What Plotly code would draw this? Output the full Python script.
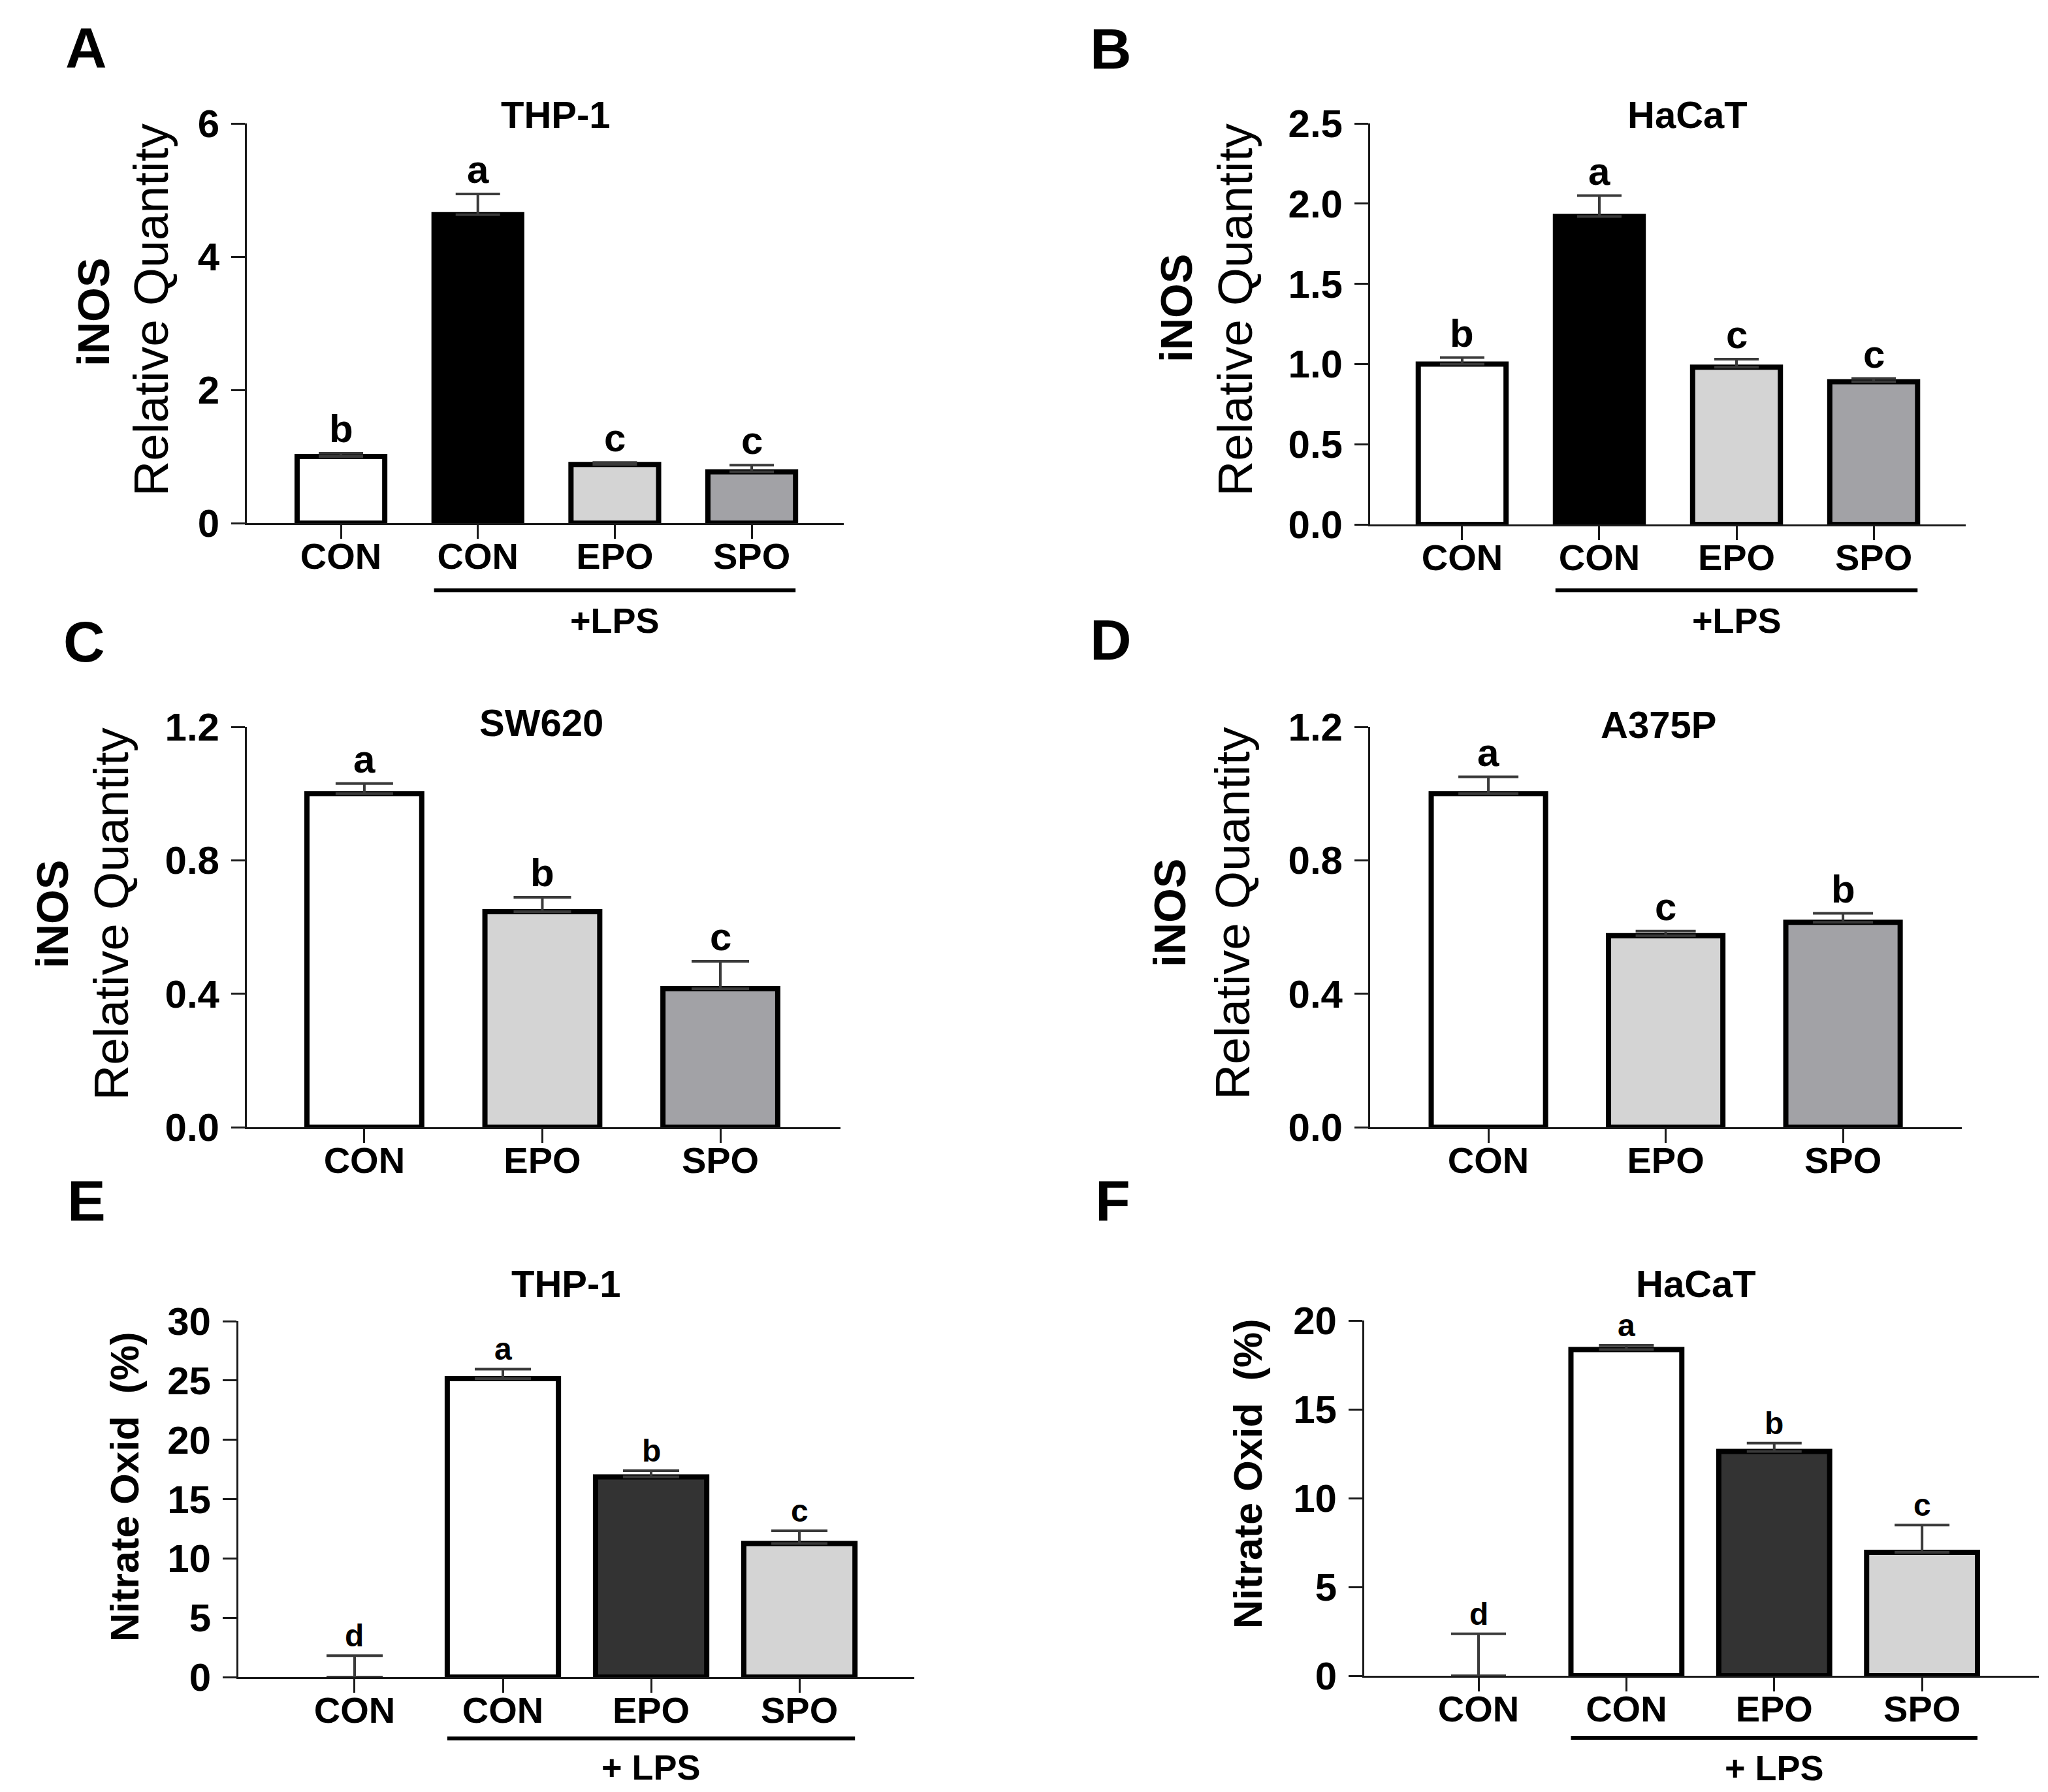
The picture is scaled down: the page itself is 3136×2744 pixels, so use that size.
import plotly.graph_objects as go

# ---- data ----
lps_groups = ["CON", "CON", "EPO", "SPO"]
cell_groups = ["CON", "EPO", "SPO"]

thp1_inos = [1.00, 4.63, 0.88, 0.77]
thp1_inos_err = [0.05, 0.31, 0.03, 0.10]
thp1_inos_sig = ["b", "a", "c", "c"]

hacat_inos = [1.00, 1.92, 0.98, 0.89]
hacat_inos_err = [0.04, 0.13, 0.05, 0.02]
hacat_inos_sig = ["b", "a", "c", "c"]

sw620_inos = [1.00, 0.646, 0.415]
sw620_inos_err = [0.03, 0.043, 0.082]
sw620_inos_sig = ["a", "b", "c"]

a375p_inos = [1.00, 0.574, 0.614]
a375p_inos_err = [0.05, 0.014, 0.027]
a375p_inos_sig = ["a", "c", "b"]

thp1_no = [0.0, 25.16, 16.87, 11.25]
thp1_no_err = [1.8, 0.80, 0.53, 1.08]
thp1_no_sig = ["d", "a", "b", "c"]

hacat_no = [0.0, 18.36, 12.63, 6.95]
hacat_no_err = [2.36, 0.24, 0.47, 1.53]
hacat_no_sig = ["d", "a", "b", "c"]

W, H = 3136, 2744
OFF_Y = 8  # page body margin shows up vertically
FONT = "Liberation Sans, Arial, sans-serif"
INK = "#1a1a1a"

WHITE, BLACK, LIGHT, MID, DARK = "#ffffff", "#000000", "#d4d4d4", "#a2a2a6", "#333333"


def px(x):
    return x / W


def py(y):
    return 1 - (y - OFF_Y) / H


panels = [
    dict(label="A", label_pos=(124, 72), title="THP-1", title_pos=(843, 176),
         vals=thp1_inos, errs=thp1_inos_err, sig=thp1_inos_sig, ticks=lps_groups,
         colors=[WHITE, BLACK, LIGHT, MID], box=(370, 1284, 189, 801),
         xr=[-0.687, 3.672], yr=[0, 6], dtick=2, fmt="d", bw=0.64, cap=34, lw=8,
         ytitle=[("iNOS", 135, 478), ("Relative Quantity", 223, 474)], sig_size=60,
         lps=(904, 950, "+LPS")),
    dict(label="B", label_pos=(1693, 74), title="HaCaT", title_pos=(2576, 176),
         vals=hacat_inos, errs=hacat_inos_err, sig=hacat_inos_sig, ticks=lps_groups,
         colors=[WHITE, BLACK, LIGHT, MID], box=(2090, 3002, 189, 803),
         xr=[-0.671, 3.671], yr=[0, 2.5], dtick=0.5, fmt=".1f", bw=0.64, cap=34, lw=8,
         ytitle=[("iNOS", 1793, 472), ("Relative Quantity", 1883, 474)], sig_size=60,
         lps=(904, 950, "+LPS")),
    dict(label="C", label_pos=(121, 982), title="SW620", title_pos=(821, 1106),
         vals=sw620_inos, errs=sw620_inos_err, sig=sw620_inos_sig, ticks=cell_groups,
         colors=[WHITE, LIGHT, MID], box=(370, 1279, 1113, 1726),
         xr=[-0.66, 2.675], yr=[0, 1.2], dtick=0.4, fmt=".1f", bw=0.645, cap=44, lw=8,
         ytitle=[("iNOS", 72, 1400), ("Relative Quantity", 162, 1399)], sig_size=60,
         lps=None),
    dict(label="D", label_pos=(1693, 980), title="A375P", title_pos=(2531, 1109),
         vals=a375p_inos, errs=a375p_inos_err, sig=a375p_inos_sig, ticks=cell_groups,
         colors=[WHITE, LIGHT, MID], box=(2090, 2996, 1113, 1726),
         xr=[-0.667, 2.67], yr=[0, 1.2], dtick=0.4, fmt=".1f", bw=0.645, cap=46, lw=8,
         ytitle=[("iNOS", 1783, 1398), ("Relative Quantity", 1879, 1398)], sig_size=60,
         lps=None),
    dict(label="E", label_pos=(124, 1838), title="THP-1", title_pos=(859, 1965),
         vals=thp1_no, errs=thp1_no_err, sig=thp1_no_sig, ticks=lps_groups,
         colors=[WHITE, WHITE, DARK, LIGHT], box=(357, 1392, 2023, 2568),
         xr=[-0.784, 3.775], yr=[0, 30], dtick=5, fmt="d", bw=0.75, cap=43, lw=8,
         ytitle=[("Nitrate Oxid\u00a0 (%)", 183, 2277)], sig_size=48,
         lps=(2662, 2706, "+ LPS")),
    dict(label="F", label_pos=(1696, 1838), title="HaCaT", title_pos=(2589, 1965),
         vals=hacat_no, errs=hacat_no_err, sig=hacat_no_sig, ticks=lps_groups,
         colors=[WHITE, WHITE, DARK, LIGHT], box=(2081, 3114, 2022, 2566),
         xr=[-0.773, 3.79], yr=[0, 20], dtick=5, fmt="d", bw=0.75, cap=42, lw=8,
         ytitle=[("Nitrate Oxid\u00a0 (%)", 1903, 2257)], sig_size=48,
         lps=(2661, 2707, "+ LPS")),
]

# y-title line styles: (bold, size)
ytitle_style = {"iNOS": (True, 68), "Relative Quantity": (False, 75)}

fig = go.Figure()
layout = {}
annotations = []
shapes = []

for i, p in enumerate(panels):
    n = i + 1
    sfx = "" if n == 1 else str(n)
    xa, ya = "x" + sfx, "y" + sfx
    x0, x1, ytop, ybot = p["box"]
    pos = list(range(len(p["vals"])))

    fig.add_trace(go.Bar(
        x=pos, y=p["vals"], width=p["bw"], xaxis=xa, yaxis=ya,
        marker=dict(color=p["colors"],
                    line=dict(color="black",
                              width=[0 if v == 0 else p["lw"] for v in p["vals"]])),
        error_y=dict(type="data", symmetric=False, array=p["errs"],
                     arrayminus=[0] * len(p["errs"]), color="#3a3a3a",
                     thickness=4, width=p["cap"]),
        showlegend=False, hoverinfo="skip",
    ))

    axis_common = dict(showline=True, linecolor=INK, linewidth=3, ticks="outside",
                       ticklen=21, tickwidth=3, tickcolor=INK, showgrid=False,
                       zeroline=False, automargin=False)
    layout["xaxis" + sfx] = dict(
        domain=[px(x0), px(x1)], range=p["xr"], anchor=ya,
        tickmode="array", tickvals=pos, ticktext=p["ticks"], ticklabelstandoff=-21,
        tickfont=dict(family=FONT, size=56, color="black", weight="bold"),
        **axis_common)
    layout["yaxis" + sfx] = dict(
        domain=[py(ybot), py(ytop)], range=p["yr"], anchor=xa,
        dtick=p["dtick"], tick0=0, tickformat=p["fmt"], ticklabelstandoff=6,
        tickfont=dict(family=FONT, size=60, color="black", weight="bold"),
        **axis_common)

    # significance letters above error bars
    for xi, v, e, s in zip(pos, p["vals"], p["errs"], p["sig"]):
        annotations.append(dict(
            x=xi, y=v + e, xref=xa, yref=ya, text="<b>%s</b>" % s, showarrow=False,
            yanchor="bottom", yshift=2,
            font=dict(family=FONT, size=p["sig_size"], color="black")))

    # panel letter and title
    annotations.append(dict(
        x=px(p["label_pos"][0]), y=py(p["label_pos"][1]), xref="paper", yref="paper",
        text="<b>%s</b>" % p["label"], showarrow=False, xanchor="center", yanchor="middle",
        font=dict(family=FONT, size=88, color="black")))
    annotations.append(dict(
        x=px(p["title_pos"][0]), y=py(p["title_pos"][1]), xref="paper", yref="paper",
        text="<b>%s</b>" % p["title"], showarrow=False, xanchor="center", yanchor="middle",
        font=dict(family=FONT, size=58, color="black")))

    # rotated y titles, one annotation per line
    for txt, tx, ty in p["ytitle"]:
        bold, size = ytitle_style.get(txt, (True, 61))
        annotations.append(dict(
            x=px(tx), y=py(ty), xref="paper", yref="paper",
            text=("<b>%s</b>" % txt) if bold else txt, showarrow=False, textangle=-90,
            xanchor="center", yanchor="middle",
            font=dict(family=FONT, size=size, color="black")))

    # +LPS bracket line under the treated groups
    if p["lps"]:
        y_line, y_text, lps_text = p["lps"]
        shapes.append(dict(type="line", xref=xa, yref="paper",
                           x0=1 - p["bw"] / 2, x1=len(pos) - 1 + p["bw"] / 2,
                           y0=py(y_line), y1=py(y_line),
                           line=dict(color="black", width=6)))
        annotations.append(dict(
            x=(len(pos) - 1 + 1) / 2, y=py(y_text), xref=xa, yref="paper",
            text="<b>%s</b>" % lps_text, showarrow=False, xanchor="center", yanchor="middle",
            font=dict(family=FONT, size=54, color="black")))

fig.update_layout(
    width=W, height=H, margin=dict(l=0, r=0, t=0, b=0, autoexpand=False),
    paper_bgcolor="white", plot_bgcolor="white",
    annotations=annotations, shapes=shapes, **layout,
)

fig.write_html("out.html")
